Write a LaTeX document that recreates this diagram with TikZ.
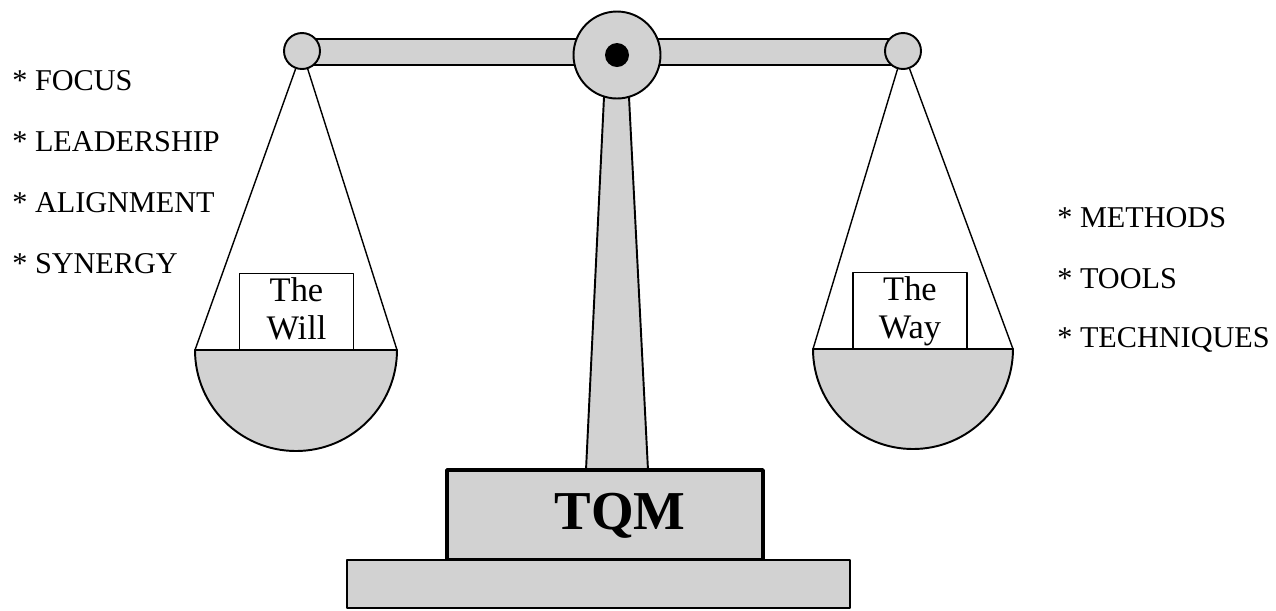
\documentclass[tikz,border=0pt]{standalone}
\usepackage{fontspec}
\setmainfont{Liberation Serif}
\usepackage{tikz}
\usetikzlibrary{positioning}

\begin{document}
\begin{tikzpicture}[x=0.02cm, y=-0.02cm, line join=round,
      part/.style={draw, line width=1.1pt, fill=gray!35},
      pivot/.style={part, circle, minimum size=0.72cm, inner sep=0pt},
      cord/.style={line width=0.8pt},
      weight/.style={draw, line width=0.9pt, fill=white, minimum width=2.28cm,
                     minimum height=1.52cm, align=center, inner sep=0pt,
                     font=\fontsize{19.6}{21.5}\selectfont},
      item/.style={anchor=base west, inner sep=0pt,
                   font=\fontsize{17.2}{19}\selectfont}]

    \useasboundingbox (0,0) rectangle (1276,610);

    % Column, then beam, then the hub and pivots on top
    \draw[part] (604,97) -- (629,97) -- (648,470) -- (586,470) -- cycle;
    \draw[part] (305,39) rectangle (900,65);
    \node[pivot, minimum size=1.74cm] (hub) at (617,55) {};
    \fill (hub.center) circle[radius=12];
    \node[pivot] (lpiv) at (302,51) {};
    \node[pivot] (rpiv) at (903,51) {};

    % Pans: rims, cords, bowls
    \coordinate (lrimL) at (195,350);
    \coordinate (lrimR) at (397,350);
    \coordinate (rrimL) at (813,349);
    \coordinate (rrimR) at (1013,349);
    \draw[cord] (lpiv) -- (lrimL);
    \draw[cord] (lpiv) -- (lrimR);
    \draw[cord] (rpiv) -- (rrimL);
    \draw[cord] (rpiv) -- (rrimR);
    \draw[part] (lrimL) arc[start angle=180, end angle=0, radius=101] -- cycle;
    \draw[part] (rrimL) arc[start angle=180, end angle=0, radius=100] -- cycle;

    % The two weights (same text depth so both sit alike)
    \node[weight, text depth=0.3em] (will) at (296.5,311.5) {The\\Will};
    \node[weight, text depth=0.3em] (way)  at (910,310.5)  {The\\Way};

    % Stand
    \node[part, line width=2.2pt, minimum width=6.32cm, minimum height=1.8cm,
          inner sep=0pt] (tqmbox) at (605,515) {};
    \node[font=\fontsize{31.2}{34}\selectfont\bfseries] (tqm) at (620,516) {TQM};
    \node[part, line width=1pt, minimum width=10.06cm, minimum height=0.96cm,
          inner sep=0pt] (base) at (598.5,584) {};

    % Left list
    \node[item] (focus) at (12,90)  {* FOCUS};
    \node[item] (lead)  at (12,151) {* LEADERSHIP};
    \node[item] (align) at (12,212) {* ALIGNMENT};
    \node[item] (syn)   at (12,273) {* SYNERGY};

    % Right list
    \node[item] (meth) at (1057,227) {* METHODS};
    \node[item] (tool) at (1057,288) {* TOOLS};
    \node[item] (tech) at (1057,347) {* TECHNIQUES};

\end{tikzpicture}
\end{document}
